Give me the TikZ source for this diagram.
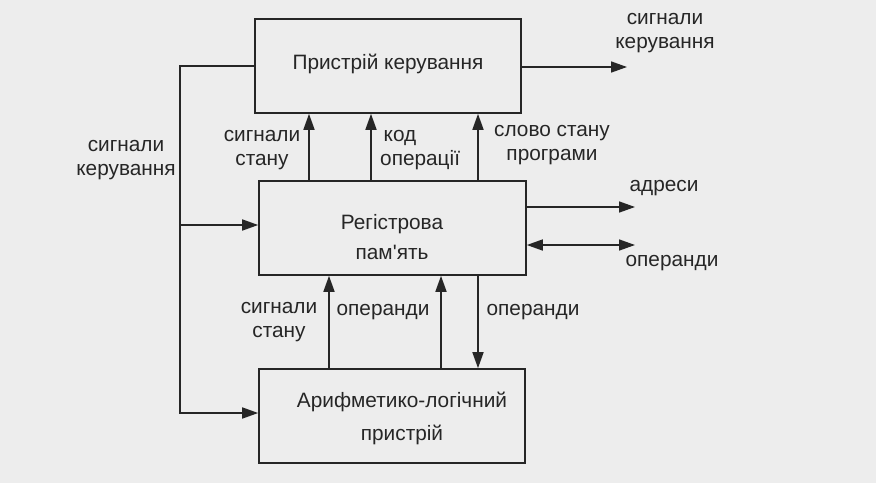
\documentclass[tikz,border=0pt]{standalone}
\usepackage{fontspec}
\setmainfont{Liberation Sans}
\usetikzlibrary{arrows.meta}
\begin{document}
\begin{tikzpicture}[x=1pt,y=-1pt,
  ln/.style={draw=black!85, line width=1.6pt},
  arr/.style={ln, -{Triangle[length=16pt,width=11pt]}},
  darr/.style={ln, {Triangle[length=16pt,width=11pt]}-{Triangle[length=16pt,width=11pt]}},
  box/.style={ln, rectangle, inner sep=0pt},
  txt/.style={font=\fontsize{20.8}{24.5}\selectfont, text=black!85, align=center, inner sep=0pt}]
\fill[black!7] (0,0) rectangle (876,483);
\useasboundingbox (0,0) rectangle (876,483);
% boxes
\node[box, minimum width=266pt, minimum height=94pt] (pk) at (388,66) {};
\node[box, minimum width=267pt, minimum height=94pt] (rp) at (392.5,228) {};
\node[box, minimum width=266pt, minimum height=94pt] (alu) at (392,416) {};
\node[txt] (pkt) at (388,64) {Пристрій керування};
\node[txt, font=\fontsize{20.8}{30}\selectfont] (rpt) at (392,237) {Регістрова\\пам\textquotesingle ять};
\node[txt, font=\fontsize{20.8}{33}\selectfont] (alut) at (402,418) {Арифметико-логічний\\пристрій};
% coordinates
\coordinate (out1) at (627,67);
\coordinate (cl1) at (180,66);
\coordinate (cl2) at (180,413);
\coordinate (cl3) at (180,225);
\coordinate (ad) at (635,207);
\coordinate (op) at (635,245);
% connectors
\draw[arr] (pk.east |- out1) -- (out1);
\draw[arr] (pk.west |- cl1) -- (cl1) -- (cl2) -- (alu.west |- cl2);
\draw[arr] (cl3) -- (rp.west |- cl3);
\draw[arr] (rp.north -| 309,0) -- (pk.south -| 309,0);
\draw[arr] (rp.north -| 371,0) -- (pk.south -| 371,0);
\draw[arr] (rp.north -| 478,0) -- (pk.south -| 478,0);
\draw[arr] (rp.east |- ad) -- (ad);
\draw[darr] (rp.east |- op) -- (op);
\draw[arr] (alu.north -| 329,0) -- (rp.south -| 329,0);
\draw[arr] (alu.north -| 441,0) -- (rp.south -| 441,0);
\draw[arr] (rp.south -| 478,0) -- (alu.north -| 478,0);
% labels
\node[txt] (l1) at (665,33) {сигнали\\керування};
\node[txt] (l2) at (126,160) {сигнали\\керування};
\node[txt] (l3) at (262,150) {сигнали\\стану};
\node[txt, align=left, anchor=west] (l4) at (380,150) {\,код\\операції};
\node[txt] (l5) at (552,145) {слово стану\\програми};
\node[txt] (l6) at (664,188) {адреси};
\node[txt] (l7) at (672,263) {операнди};
\node[txt] (l8) at (279,322) {сигнали\\стану};
\node[txt] (l9) at (383,312) {операнди};
\node[txt] (l10) at (533,312) {операнди};
\end{tikzpicture}
\end{document}
